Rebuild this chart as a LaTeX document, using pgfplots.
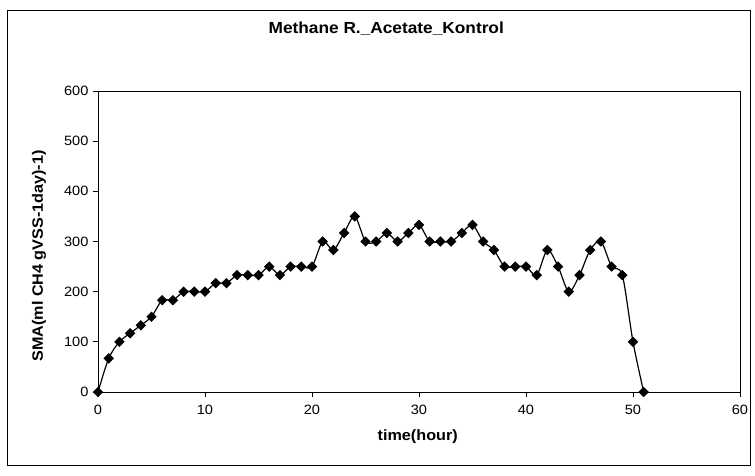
\documentclass[border=0pt]{standalone}
\usepackage{fontspec}
\setmainfont{Liberation Sans}[FakeStretch=1.08]
\usepackage{pgfplots}
\pgfplotsset{compat=1.18}

\begin{document}
\begin{tikzpicture}
  \useasboundingbox[fill=white] (-98pt,-83pt) rectangle (657pt,392pt);
  \draw[line width=0.8pt] (-91pt,-73pt) rectangle (652pt,382pt);
  \begin{axis}[
    at={(0pt,0pt)}, anchor=south west,
    width=642pt, height=301pt,
    scale only axis,
    xmin=0, xmax=60,
    ymin=0, ymax=600,
    xtick={0,10,...,60},
    ytick={0,100,...,600},
    tick align=outside,
    xtick pos=bottom, ytick pos=left,
    major tick length=5pt,
    axis line style={line width=0.9pt},
    every tick/.style={black, line width=0.8pt},
    /pgf/number format/assume math mode=true,
    tick label style={font=\fontsize{13.5}{15}\selectfont},
    xticklabel style={anchor=center, yshift=-13pt},
    yticklabel style={anchor=east, xshift=-1pt},
    title={\bfseries Methane R.\_Acetate\_Kontrol},
    title style={font=\fontsize{16}{18}\selectfont, at={(axis description cs:0.449,1)}, anchor=center, yshift=56pt},
    xlabel={\bfseries time(hour)},
    xlabel style={font=\fontsize{15}{17}\selectfont, at={(axis description cs:0.498,0)}, anchor=center, yshift=-45pt},
    ylabel={\bfseries SMA(ml CH4 gVSS-1day)-1)},
    ylabel style={font=\fontsize{15}{17}\selectfont, at={(axis description cs:-0.092,0.452)}, anchor=center},
  ]
  \addplot[black, line width=1.2pt, smooth, tension=0.5,
    mark=square*, mark size=3.1pt, mark options={rotate=45, solid}]
  coordinates {
    (0,0) (1,67) (2,100) (3,117) (4,133) (5,150) (6,183) (7,183)
    (8,200) (9,200) (10,200) (11,217) (12,217) (13,233) (14,233) (15,233)
    (16,250) (17,233) (18,250) (19,250) (20,250) (21,300) (22,283) (23,317)
    (24,350) (25,300) (26,300) (27,317) (28,300) (29,317) (30,333) (31,300)
    (32,300) (33,300) (34,317) (35,333) (36,300) (37,283) (38,250) (39,250)
    (40,250) (41,233) (42,283) (43,250) (44,200) (45,233) (46,283) (47,300)
    (48,250) (49,233) (50,100) (51,0)
  };
  \end{axis}
\end{tikzpicture}
\end{document}
